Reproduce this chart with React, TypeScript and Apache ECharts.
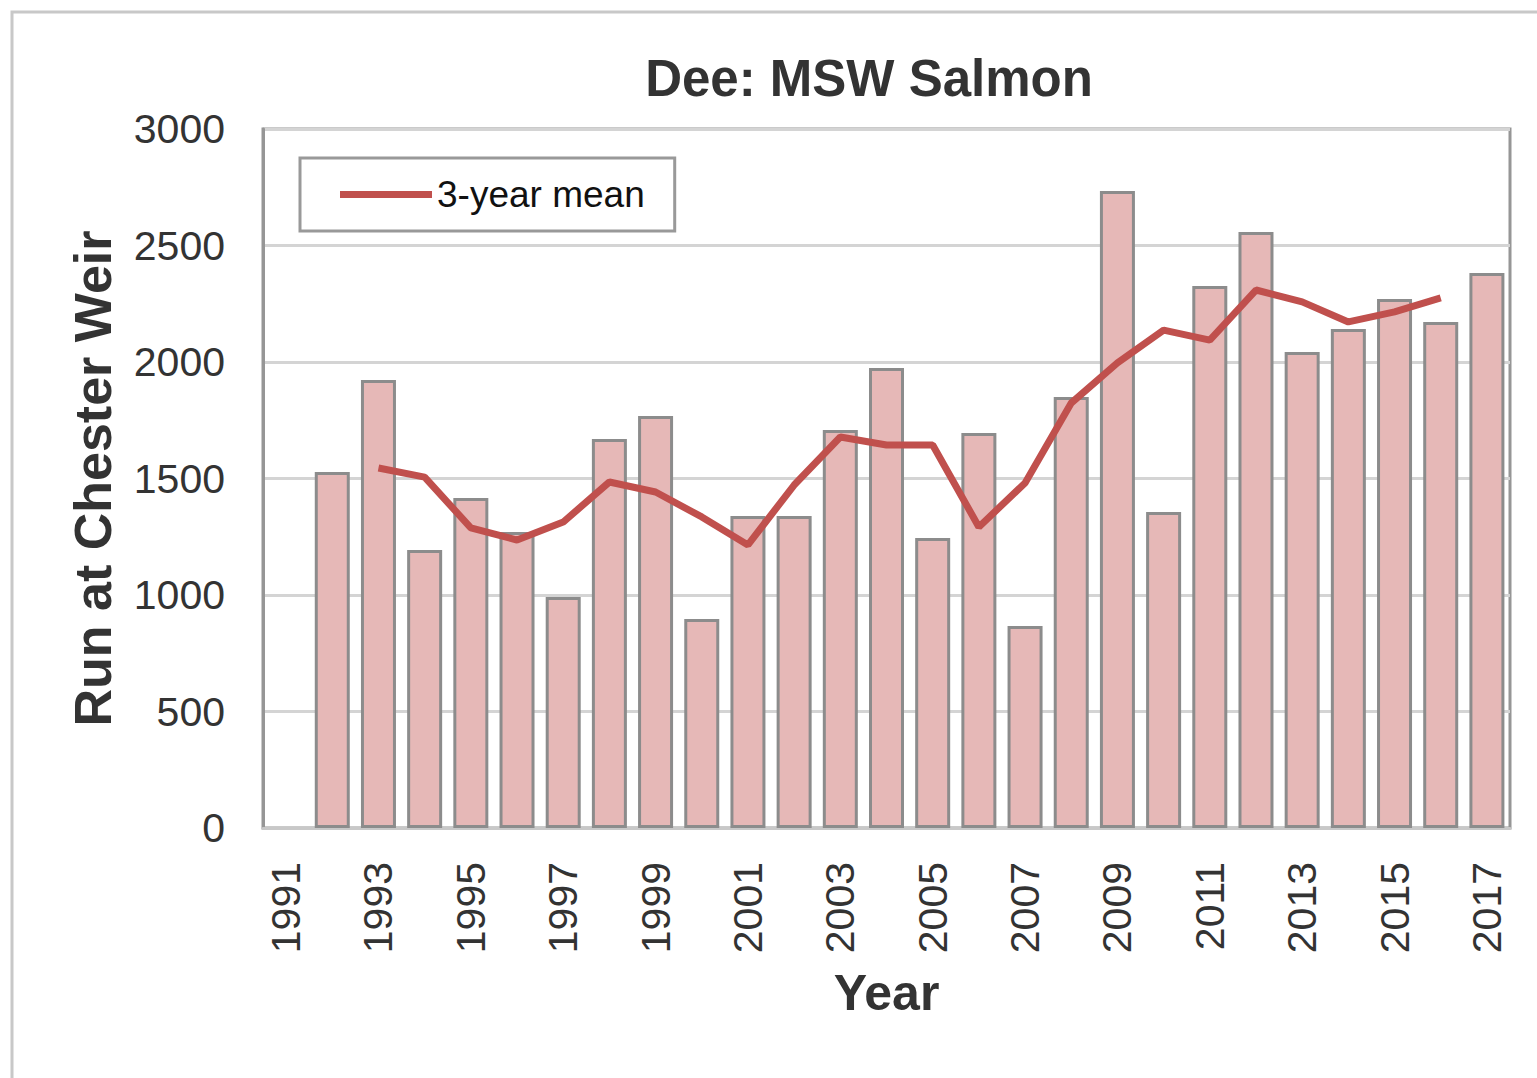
import React, { useEffect, useRef } from "react";
import * as echarts from "echarts";

const years = [
  "1991", "1992", "1993", "1994", "1995", "1996", "1997", "1998", "1999", "2000",
  "2001", "2002", "2003", "2004", "2005", "2006", "2007", "2008", "2009", "2010",
  "2011", "2012", "2013", "2014", "2015", "2016", "2017",
];

const runValues: (number | null)[] = [
  null, 1528, 1923, 1193, 1416, 1270, 991, 1670, 1768, 897,
  1339, 1339, 1708, 1974, 1245, 1695, 867, 1850, 2734, 1356,
  2326, 2558, 2043, 2142, 2270, 2172, 2382,
];

const meanValues: (number | null)[] = [
  null, null, 1545, 1506, 1288, 1236, 1313, 1485, 1442, 1335,
  1215, 1472, 1678, 1644, 1644, 1292, 1481, 1824, 1996, 2137,
  2094, 2309, 2258, 2172, 2215, 2275, null,
];

const titleText = "Dee: MSW Salmon";
const yAxisName = "Run at Chester Weir";
const xAxisName = "Year";
const seriesName = "3-year mean";

export default function App() {
  const ref = useRef<HTMLDivElement>(null);
  useEffect(() => {
    if (!ref.current) return;
    const chart = echarts.init(ref.current, null, { renderer: "svg" });
    const font = "'Liberation Sans', Arial, sans-serif";
    chart.setOption({
      animation: false,
      backgroundColor: "#ffffff",
      textStyle: { fontFamily: font },
      title: {
        text: titleText,
        left: 864,
        top: 48,
        textAlign: "center",
        textStyle: { fontSize: 51, fontWeight: "bold", color: "#333333", fontFamily: font },
      },
      graphic: [
        {
          type: "rect",
          shape: { x: 12, y: 12, width: 1600, height: 1200 },
          style: { fill: "none", stroke: "#c8c8c8", lineWidth: 3 },
          silent: true,
        },
      ],
      legend: {
        left: 300,
        top: 158,
        padding: [18, 30, 18, 40],
        borderColor: "#999999",
        borderWidth: 3,
        backgroundColor: "#ffffff",
        itemWidth: 92,
        itemHeight: 7,
        data: [{ name: seriesName, icon: "rect" }],
        textStyle: { fontSize: 37, color: "#111111", fontFamily: font },
      },
      grid: {
        left: 263,
        right: 27,
        top: 129,
        bottom: 250,
        show: true,
        borderColor: "#969696",
        borderWidth: 3,
        backgroundColor: "transparent",
      },
      xAxis: {
        type: "category",
        data: years,
        name: xAxisName,
        nameLocation: "middle",
        nameGap: 140,
        nameTextStyle: { fontSize: 50, fontWeight: "bold", color: "#333333", fontFamily: font },
        axisLine: { lineStyle: { color: "#c8c8c8", width: 3 } },
        axisTick: { show: false },
        axisLabel: {
          interval: 1,
          rotate: 90,
          margin: 34,
          fontSize: 41,
          color: "#333333",
          fontFamily: font,
        },
      },
      yAxis: {
        type: "value",
        min: 0,
        max: 3000,
        interval: 500,
        name: yAxisName,
        nameLocation: "middle",
        nameGap: 144,
        nameRotate: 90,
        nameTextStyle: { fontSize: 52, fontWeight: "bold", color: "#333333", fontFamily: font },
        axisLine: { show: true, lineStyle: { color: "#969696", width: 3 } },
        axisTick: { show: false },
        splitLine: { lineStyle: { color: "#d4d4d4", width: 3 } },
        axisLabel: {
          margin: 38,
          fontSize: 41,
          color: "#333333",
          fontFamily: font,
          formatter: (v: number) => String(v),
        },
      },
      series: [
        {
          name: "Run",
          type: "bar",
          data: runValues,
          barWidth: 35,
          itemStyle: { color: "#e6b8b7", borderColor: "#8c8c8c", borderWidth: 3 },
        },
        {
          name: seriesName,
          type: "line",
          data: meanValues,
          showSymbol: false,
          symbol: "none",
          lineStyle: { color: "#c0504d", width: 7 },
          itemStyle: { color: "#c0504d" },
          z: 3,
        },
      ],
    });
    return () => chart.dispose();
  }, []);
  return (
    <div
      ref={ref}
      style={{ position: "absolute", left: 0, top: 0, width: 1537, height: 1078 }}
    />
  );
}
